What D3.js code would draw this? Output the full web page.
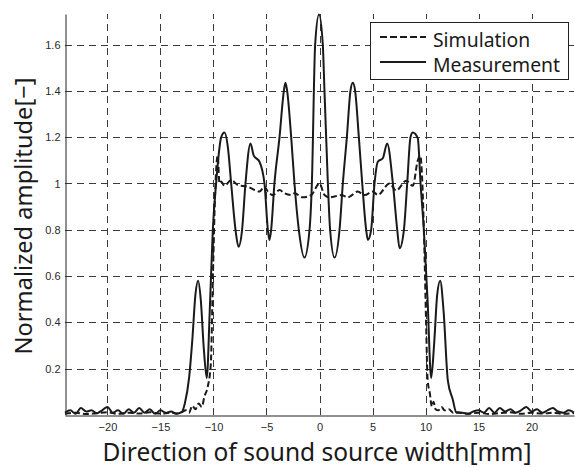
<!DOCTYPE html>
<html>
<head>
<meta charset="utf-8">
<script src="https://cdn.jsdelivr.net/npm/d3@7"></script>
<style>
    body { margin: 0; background: #fff; }
    .tick text { font-family: "Liberation Sans", Arial, sans-serif; font-size: 11px; fill: #2a2a2a; }
    .label { font-family: "Noto Sans", "DejaVu Sans", sans-serif; fill: #1a1a1a; }
</style>
</head>
<body>
<div id="chart"></div>
<script>
    "use strict";

    // values
    const xTicks = [-20, -15, -10, -5, 0, 5, 10, 15, 20];
    const yTicks = [0.2, 0.4, 0.6, 0.8, 1, 1.2, 1.4, 1.6];
    const xLabel = "Direction of sound source width[mm]";
    const yLabel = "Normalized amplitude[−]";
    const legendLabels = ["Simulation", "Measurement"];

    const measurement = [
        [-24, 0.01], [-23.5, 0.02], [-23, 0.005], [-22.5, 0.03], [-22, 0.015], [-21.5, 0.02],
        [-21, 0.008], [-20.5, 0.02], [-20, 0.035], [-19.5, 0.01], [-19, 0.02], [-18.5, 0.005],
        [-18, 0.025], [-17.5, 0.01], [-17, 0.03], [-16.5, 0.01], [-16, 0.025], [-15.5, 0.005],
        [-15, 0.02], [-14.5, 0.01], [-14, 0.015], [-13.5, 0.005], [-13, 0.012],
        [-12.7, 0.05], [-12.3, 0.16], [-12.0, 0.32], [-11.7, 0.52], [-11.45, 0.58], [-11.2, 0.5],
        [-10.9, 0.28], [-10.63, 0.16], [-10.35, 0.45], [-10.06, 0.8], [-9.75, 1.0], [-9.27, 1.2],
        [-8.96, 1.22], [-8.65, 1.16], [-8.33, 1.0], [-7.92, 0.8], [-7.64, 0.727], [-7.3, 0.8],
        [-6.98, 1.0], [-6.51, 1.173], [-6.2, 1.12], [-5.97, 1.109], [-5.66, 1.094], [-5.19, 1.0],
        [-4.87, 0.8], [-4.72, 0.756], [-4.56, 0.8], [-4.25, 1.0], [-3.77, 1.2], [-3.36, 1.4],
        [-3.21, 1.435], [-3.05, 1.4], [-2.67, 1.2], [-2.36, 1.0], [-1.95, 0.8], [-1.42, 0.68],
        [-0.94, 0.8], [-0.72, 1.0], [-0.41, 1.6], [-0.05, 1.73],
        [0.31, 1.6], [0.47, 1.4], [0.79, 1.0], [1.0, 0.8], [1.42, 0.68], [1.89, 0.8], [2.2, 1.0],
        [2.58, 1.2], [2.92, 1.4], [3.14, 1.435], [3.36, 1.4], [3.71, 1.2], [4.03, 1.0], [4.4, 0.8],
        [4.56, 0.756], [4.87, 0.8], [5.19, 1.0], [5.5, 1.094], [5.97, 1.109], [6.38, 1.173],
        [6.92, 1.0], [7.33, 0.8], [7.55, 0.72], [7.96, 0.8], [8.27, 1.0], [8.58, 1.2], [8.8, 1.22],
        [9.27, 1.195], [9.53, 1.0], [9.84, 0.8], [10.19, 0.5], [10.53, 0.16], [10.8, 0.3],
        [11.1, 0.52], [11.38, 0.58], [11.7, 0.45], [12.1, 0.15], [12.58, 0.065], [12.9, 0.01],
        [13.5, 0.01], [14, 0.005], [14.5, 0.015], [15, 0.02], [15.5, 0.01], [16, 0.03], [16.5, 0.01],
        [17, 0.03], [17.5, 0.015], [18, 0.025], [18.5, 0.01], [19, 0.02], [19.5, 0.035], [20, 0.015],
        [20.5, 0.025], [21, 0.01], [21.5, 0.02], [22, 0.03], [22.5, 0.015], [23, 0.01], [23.5, 0.02],
        [24, 0.01]
    ];

    const simulation = [
        [-24, 0.005], [-23, 0.01], [-22, 0.004], [-21, 0.008], [-20, 0.012], [-19, 0.005],
        [-18, 0.01], [-17, 0.006], [-16, 0.012], [-15, 0.006], [-14, 0.01], [-13.5, 0.006],
        [-13, 0.012], [-12.6, 0.02], [-12.3, 0.01], [-12.0, 0.04], [-11.7, 0.025], [-11.4, 0.05],
        [-11.1, 0.035], [-10.85, 0.08], [-10.55, 0.12], [-10.25, 0.22], [-10.05, 0.6],
        [-9.85, 0.95], [-9.6, 1.12], [-9.43, 1.0], [-9.27, 1.008], [-8.96, 0.99], [-8.33, 1.015],
        [-7.7, 0.993], [-6.76, 0.986], [-6.13, 0.972], [-5.66, 0.965], [-5.19, 0.986],
        [-4.87, 0.965], [-4.4, 0.95], [-3.77, 0.972], [-3.3, 0.958], [-2.67, 0.95], [-2.36, 0.958],
        [-1.57, 0.94], [-0.78, 0.95], [0, 1.0], [0.47, 0.95], [0.94, 0.94], [1.5, 0.945],
        [2.04, 0.95], [2.67, 0.94], [3.6, 0.965], [4.25, 0.95], [5.03, 0.965], [5.5, 0.95],
        [6.6, 1.0], [7.23, 0.97], [8.18, 1.012], [8.8, 0.99], [9.27, 1.1], [9.5, 1.12],
        [9.7, 1.0], [9.9, 0.7], [10.05, 0.4], [10.2, 0.15], [10.4, 0.095], [10.6, 0.036],
        [10.75, 0.057], [10.95, 0.025], [11.2, 0.02], [11.5, 0.035], [11.8, 0.02], [12.2, 0.025],
        [12.6, 0.01], [13, 0.012], [14, 0.005], [15, 0.01], [16, 0.004], [17, 0.008], [18, 0.012],
        [19, 0.005], [20, 0.01], [21, 0.006], [22, 0.01], [23, 0.005], [24, 0.008]
    ];

    const width = 575;
    const height = 467;
    const margin = { top: 14, right: 1, bottom: 52, left: 65 };

    const svg = d3.select("#chart").append("svg")
        .attr("width", width)
        .attr("height", height);

    const x = d3.scaleLinear().domain([-24, 24]).range([margin.left, width - margin.right]);
    const y = d3.scaleLinear().domain([0, 1.732]).range([height - margin.bottom, margin.top]);

    // shrink or grow a label until it spans the width seen in the picture
    let fitText = (sel, target) => {
        const w = sel.node().getComputedTextLength();
        const size = +sel.attr("font-size");
        sel.attr("font-size", (size * target / w).toFixed(2));
    };

    // dashed grid
    const grid = svg.append("g")
        .attr("stroke", "#3a3a3a")
        .attr("stroke-width", 1)
        .attr("stroke-dasharray", "7,5");

    grid.selectAll("line.v").data(xTicks).enter().append("line")
        .attr("class", "v")
        .attr("x1", d => Math.round(x(d)) + 0.5).attr("x2", d => Math.round(x(d)) + 0.5)
        .attr("y1", y.range()[0]).attr("y2", y.range()[1]);

    grid.selectAll("line.h").data(yTicks).enter().append("line")
        .attr("class", "h")
        .attr("x1", x.range()[0]).attr("x2", x.range()[1])
        .attr("y1", d => Math.round(y(d)) + 0.5).attr("y2", d => Math.round(y(d)) + 0.5);

    // curves
    let line = d3.line()
        .x(d => x(d[0]))
        .y(d => y(d[1]))
        .curve(d3.curveMonotoneX);

    svg.append("path")
        .datum(simulation)
        .attr("d", line)
        .attr("fill", "none")
        .attr("stroke", "#1a1a1a")
        .attr("stroke-width", 2)
        .attr("stroke-dasharray", "6,3");

    svg.append("path")
        .datum(measurement)
        .attr("d", line)
        .attr("fill", "none")
        .attr("stroke", "#1a1a1a")
        .attr("stroke-width", 2);

    // axes, left and bottom only
    svg.append("g")
        .attr("transform", `translate(0,${y.range()[0] + 0.5})`)
        .call(d3.axisBottom(x).tickValues(xTicks).tickSize(0).tickPadding(8).tickFormat(d3.format("d")))
        .call(g => g.select(".domain").attr("stroke", "#222"));

    svg.append("g")
        .attr("transform", `translate(${x.range()[0] + 0.5},0)`)
        .call(d3.axisLeft(y).tickValues(yTicks).tickSize(0).tickPadding(5).tickFormat(d => String(d)))
        .call(g => g.select(".domain").attr("stroke", "#222"));

    svg.selectAll(".tick text").attr("font-family", null).attr("font-size", null);

    // axis labels
    svg.append("text")
        .attr("class", "label")
        .attr("x", 317)
        .attr("y", 461)
        .attr("text-anchor", "middle")
        .attr("font-size", 22)
        .text(xLabel)
        .call(fitText, 429);

    svg.append("text")
        .attr("class", "label")
        .attr("transform", "translate(32,216) rotate(-90)")
        .attr("text-anchor", "middle")
        .attr("font-size", 22)
        .text(yLabel)
        .call(fitText, 277);

    // legend
    const legend = svg.append("g");

    legend.append("rect")
        .attr("x", 370.5).attr("y", 22.5)
        .attr("width", 198).attr("height", 57)
        .attr("fill", "#fff")
        .attr("stroke", "#222");

    legendLabels.forEach((name, i) => {
        const ly = 37 + i * 25;
        legend.append("line")
            .attr("x1", 380).attr("x2", 426)
            .attr("y1", ly).attr("y2", ly)
            .attr("stroke", "#1a1a1a")
            .attr("stroke-width", 2)
            .attr("stroke-dasharray", i === 0 ? "7,3" : null);
        legend.append("text")
            .attr("class", "label")
            .attr("x", 433)
            .attr("y", ly + 9.5)
            .attr("font-size", 18)
            .text(name)
            .call(t => i === 1 ? fitText(t, 127) : null);
    });

    // both legend entries share the size fitted on the longer one
    legend.selectAll("text").attr("font-size", legend.selectAll("text").filter((d, i) => i === 1).attr("font-size"));
</script>
</body>
</html>
